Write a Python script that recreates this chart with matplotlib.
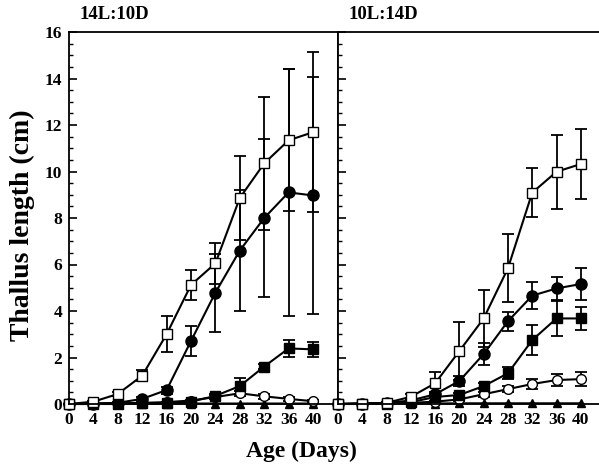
import numpy as np
import matplotlib
matplotlib.use('Agg')
import matplotlib.pyplot as plt
from matplotlib.ticker import MultipleLocator

plt.rcParams['font.family'] = ['Liberation Serif', 'DejaVu Serif']
plt.rcParams['font.weight'] = 'bold'

days = [0, 4, 8, 12, 16, 20, 24, 28, 32, 36, 40]

# 14L:10D
l_open_sq = [0, 0.1, 0.43, 1.22, 3.0, 5.12, 6.05, 8.86, 10.35, 11.34, 11.69]
l_open_sq_err = [0, 0.05, 0.1, 0.25, 0.77, 0.63, 0.89, 1.8, 2.85, 3.05, 3.45]
l_fill_ci = [0, 0.02, 0.05, 0.22, 0.6, 2.71, 4.79, 6.6, 8.0, 9.1, 8.97]
l_fill_ci_err = [0, 0, 0.03, 0.08, 0.15, 0.65, 1.68, 2.6, 3.4, 5.3, 5.1]
l_fill_sq = [0, 0, 0.02, 0.03, 0.05, 0.1, 0.35, 0.77, 1.61, 2.39, 2.35]
l_fill_sq_err = [0, 0, 0, 0, 0.02, 0.04, 0.1, 0.33, 0.1, 0.37, 0.33]
l_open_ci = [0, 0.02, 0.03, 0.05, 0.08, 0.15, 0.3, 0.46, 0.33, 0.22, 0.12]
l_open_ci_err = [0, 0, 0, 0, 0.02, 0.04, 0.08, 0.12, 0.1, 0.08, 0.05]
l_fill_tr = [0, 0, 0, 0.01, 0.01, 0.02, 0.02, 0.02, 0.02, 0.02, 0.02]

# 10L:14D
r_open_sq = [0, 0.02, 0.05, 0.31, 0.89, 2.28, 3.68, 5.84, 9.09, 9.99, 10.32]
r_open_sq_err = [0, 0, 0.02, 0.1, 0.47, 1.26, 1.22, 1.47, 1.04, 1.6, 1.5]
r_fill_ci = [0, 0.02, 0.05, 0.15, 0.42, 0.99, 2.15, 3.56, 4.66, 4.97, 5.16]
r_fill_ci_err = [0, 0, 0.01, 0.04, 0.1, 0.2, 0.47, 0.41, 0.58, 0.48, 0.7]
r_fill_sq = [0, 0, 0.02, 0.08, 0.3, 0.39, 0.77, 1.32, 2.75, 3.68, 3.68]
r_fill_sq_err = [0, 0, 0, 0.02, 0.05, 0.08, 0.12, 0.25, 0.63, 0.75, 0.48]
r_open_ci = [0, 0.02, 0.03, 0.05, 0.1, 0.2, 0.42, 0.64, 0.86, 1.03, 1.07]
r_open_ci_err = [0, 0, 0, 0, 0.02, 0.05, 0.1, 0.12, 0.2, 0.25, 0.3]
r_fill_tr = [0, 0.01, 0.01, 0.02, 0.02, 0.03, 0.03, 0.03, 0.03, 0.03, 0.03]

panels = [
    ('14L:10D', l_open_sq, l_open_sq_err, l_fill_ci, l_fill_ci_err,
     l_fill_sq, l_fill_sq_err, l_open_ci, l_open_ci_err, l_fill_tr),
    ('10L:14D', r_open_sq, r_open_sq_err, r_fill_ci, r_fill_ci_err,
     r_fill_sq, r_fill_sq_err, r_open_ci, r_open_ci_err, r_fill_tr),
]

W, H = 599, 469
fig = plt.figure(figsize=(W / 100, H / 100), dpi=100)
bottom = 1 - 404 / H
height = (404 - 32) / H
ax_l = fig.add_axes([69 / W, bottom, (338 - 69) / W, height])
ax_r = fig.add_axes([338 / W, bottom, (599 - 338) / W, height])
axes = [ax_l, ax_r]
xmax = [44.1, 43.0]

for ax, xm, p in zip(axes, xmax, panels):
    title, osq, osq_e, fci, fci_e, fsq, fsq_e, oci, oci_e, ftr = p
    kw = dict(color='black', lw=1.5, capsize=4, elinewidth=1.3, capthick=1.3,
              clip_on=False)
    ax.errorbar(days, ftr, fmt='-^', ms=6, mfc='black', mec='black', **kw)
    ax.errorbar(days, oci, yerr=oci_e, fmt='-o', ms=7, mfc='white', mec='black', **kw)
    ax.errorbar(days, fsq, yerr=fsq_e, fmt='-s', ms=7, mfc='black', mec='black', **kw)
    ax.errorbar(days, fci, yerr=fci_e, fmt='-o', ms=8, mfc='black', mec='black', **kw)
    ax.errorbar(days, osq, yerr=osq_e, fmt='-s', ms=7, mfc='white', mec='black', **kw)
    ax.set_xlim(0, xm)
    ax.set_ylim(0, 16)
    ax.set_xticks(days)
    ax.yaxis.set_major_locator(MultipleLocator(2))
    ax.yaxis.set_minor_locator(MultipleLocator(0.5))
    ax.tick_params(axis='both', which='both', direction='in', labelsize=12.5)
    ax.tick_params(axis='y', which='major', length=6, width=1.2, pad=5)
    ax.tick_params(axis='y', which='minor', length=3, width=1)
    ax.tick_params(axis='x', length=0, pad=6)
    for s in ax.spines.values():
        s.set_linewidth(1.3)
    ax.text(0.04, 1.025, title, transform=ax.transAxes, fontsize=13.5,
            fontweight='bold', ha='left', va='bottom')

ax_r.spines['right'].set_visible(False)
ax_r.tick_params(axis='y', labelleft=False)

fig.text(22 / W, 1 - 225 / H, 'Thallus length (cm)', rotation=90,
         fontsize=20, fontweight='bold', ha='center', va='center')
fig.text(301 / W, 1 - 451 / H, 'Age (Days)', fontsize=17,
         fontweight='bold', ha='center', va='center')

fig.savefig('out.png', dpi=100)
